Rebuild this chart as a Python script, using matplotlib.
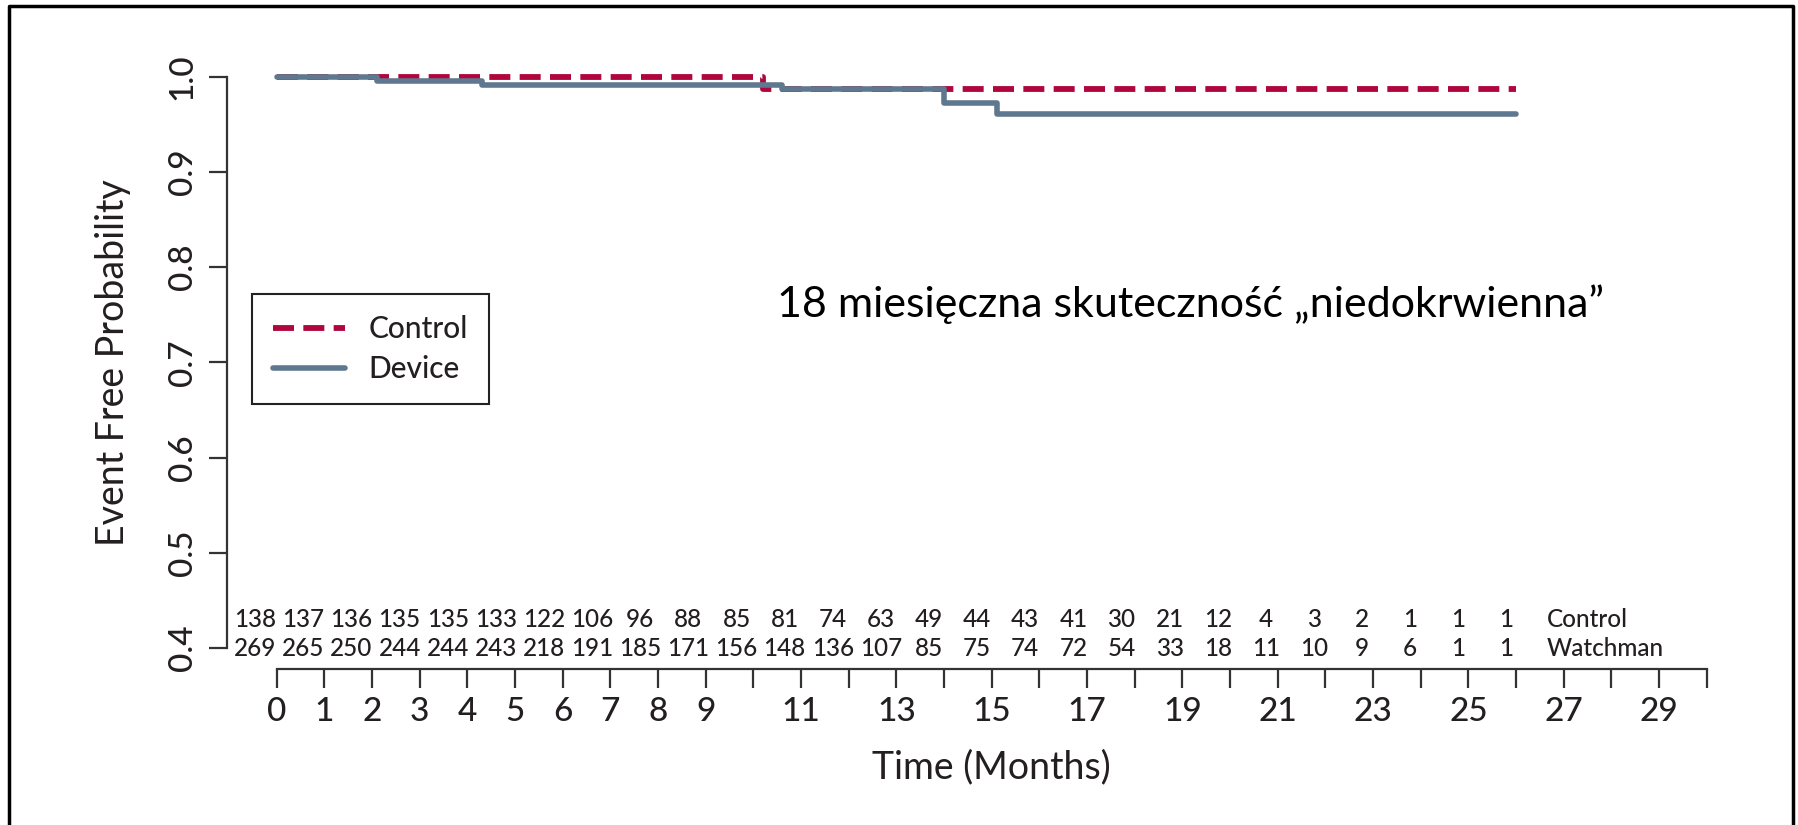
import numpy as np
import matplotlib.pyplot as plt
from matplotlib.lines import Line2D

plt.rcParams['font.family'] = ['Lato', 'DejaVu Sans']
plt.rcParams['font.weight'] = 'medium'

# Krzywe Kaplana-Meiera
control_time = [0, 10.2, 26]
control_surv = [1.0, 0.987, 0.987]
device_time = [0, 2.1, 4.3, 10.6, 14.0, 15.1, 26]
device_surv = [1.0, 0.9955, 0.991, 0.987, 0.9725, 0.961, 0.961]

# Liczba pacjentów w grupie ryzyka
risk_months = list(range(27))
risk_control = [138, 137, 136, 135, 135, 133, 122, 106, 96, 88, 85, 81, 74, 63,
                49, 44, 43, 41, 30, 21, 12, 4, 3, 2, 1, 1, 1]
risk_watchman = [269, 265, 250, 244, 244, 243, 218, 191, 185, 171, 156, 148, 136,
                 107, 85, 75, 74, 72, 54, 33, 18, 11, 10, 9, 6, 1, 1]

x_ticks = list(range(31))
x_ticklabels = [str(i) if (i < 10 or i % 2 == 1) else '' for i in x_ticks]
y_ticks = [0.4, 0.5, 0.6, 0.7, 0.8, 0.9, 1.0]
y_ticklabels = ['0.4', '0.5', '0.6', '0.7', '0.8', '0.9', '1.0']

c_control = '#B0063D'
c_device = '#5E788F'
c_axis = '#333333'
c_text = '#231F20'

fig = plt.figure(figsize=(17.99, 8.25), dpi=100)
ax = fig.add_axes([0.10083, 0.09915, 0.87443, 0.84255])
ax.set_xlim(-2, 31)
ax.set_ylim(0.3, 1.03)

# Krzywe
ax.step(control_time, control_surv, where='post', color=c_control, lw=4.2,
        dashes=(3.6, 1.6), label='Control', zorder=2)
ax.step(device_time, device_surv, where='post', color=c_device, lw=4.0,
        solid_capstyle='round', label='Device', zorder=3)

# Osie
for s in ['top', 'right']:
    ax.spines[s].set_visible(False)
ax.spines['left'].set_position(('data', -1.05))
ax.spines['left'].set_bounds(0.4, 1.0)
ax.spines['bottom'].set_position(('data', 0.378))
ax.spines['bottom'].set_bounds(0, 30)
for s in ['left', 'bottom']:
    ax.spines[s].set_linewidth(1.6)
    ax.spines[s].set_color(c_axis)

ax.set_yticks(y_ticks, y_ticklabels)
ax.set_xticks(x_ticks, x_ticklabels)
ax.tick_params(axis='y', length=13, width=1.6, color=c_axis, pad=8,
               labelsize=24, labelcolor=c_text, labelrotation=90)
ax.tick_params(axis='x', length=13.5, width=1.6, color=c_axis, pad=7,
               labelsize=24, labelcolor=c_text)
plt.setp(ax.get_yticklabels(), va='center')

ax.set_ylabel('Event Free Probability', fontsize=27, color=c_text)
ax.yaxis.set_label_coords(-0.0435, 0.548)
ax.yaxis.label.set(ha='center', va='center', rotation_mode='default')
ax.set_xlabel('Time (Months)', fontsize=27, color=c_text)
ax.xaxis.set_label_coords(0.5152, -0.034)
ax.xaxis.label.set(va='center')

# Tabela ryzyka
for m, nc, nw in zip(risk_months, risk_control, risk_watchman):
    xc = m - 0.45 + 0.0095 * m
    ax.text(xc, 0.4294, str(nc), ha='center', va='center', fontsize=17.5, color=c_text)
    ax.text(xc, 0.3995, str(nw), ha='center', va='center', fontsize=17.5, color=c_text)
ax.text(26.65, 0.4294, 'Control', ha='left', va='center', fontsize=17.5, color=c_text)
ax.text(26.65, 0.3995, 'Watchman', ha='left', va='center', fontsize=17.5, color=c_text)

# Legenda
leg = ax.legend(loc='upper left', bbox_to_anchor=(0.0451, 0.6458), borderaxespad=0,
                fontsize=21.5, frameon=True, fancybox=False, edgecolor='#222222',
                framealpha=1, handlelength=2.4, handletextpad=0.8, borderpad=0.7,
                labelspacing=0.4)
leg.get_frame().set_linewidth(1.5)
for t in leg.get_texts():
    t.set_color(c_text)

fig.text(777 / 1799, 1 - 304 / 825, '18 miesięczna skuteczność „niedokrwienna”',
         fontsize=31, fontweight='normal', ha='left', va='center', color='black')

# Ramka slajdu
fig.add_artist(Line2D([9.3 / 1799, 9.3 / 1799, 1792.7 / 1799, 1792.7 / 1799],
                      [0, 1 - 5.5 / 825, 1 - 5.5 / 825, 0],
                      transform=fig.transFigure, color='black', lw=2.5))

fig.savefig('out.png', dpi=100)
